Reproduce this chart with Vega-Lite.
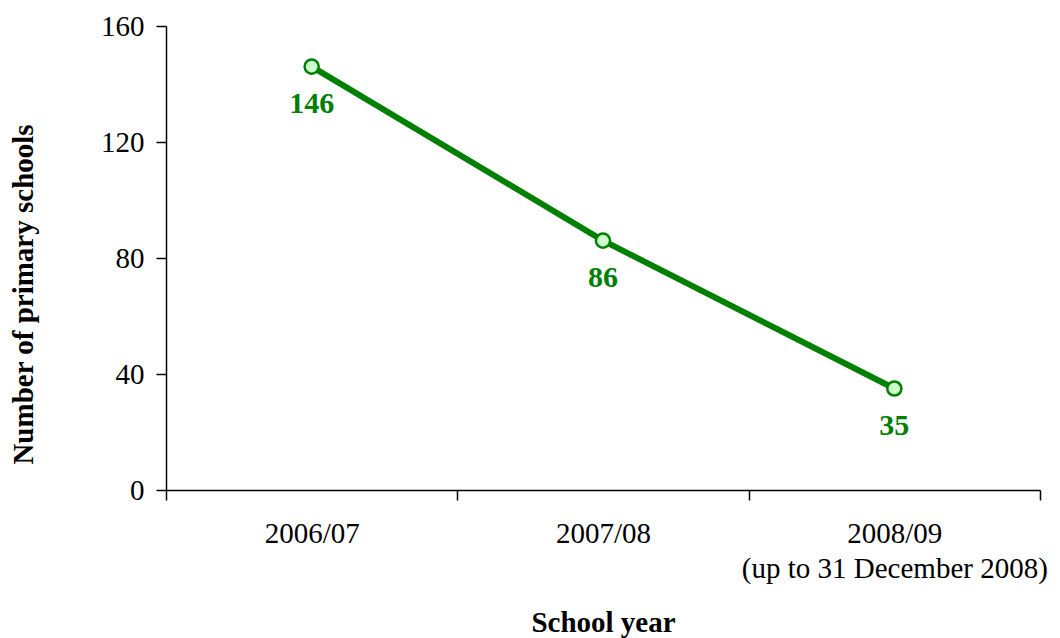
{
  "$schema": "https://vega.github.io/schema/vega-lite/v6.json",
  "autosize": "none",
  "width": 874,
  "height": 464,
  "padding": {"left": 166, "top": 26, "right": 20, "bottom": 148},
  "background": "white",
  "config": {
    "view": {"stroke": null},
    "font": "Liberation Serif",
    "axis": {
      "labelFont": "Liberation Serif",
      "titleFont": "Liberation Serif",
      "labelColor": "black",
      "titleColor": "black",
      "domainColor": "black",
      "tickColor": "black",
      "domainWidth": 1.5,
      "tickWidth": 1.5,
      "grid": false,
      "labelLimit": 0
    }
  },
  "data": {
    "values": [
      {"year": "2006/07", "schools": 146},
      {"year": "2007/08", "schools": 86},
      {"year": "2008/09", "schools": 35}
    ]
  },
  "encoding": {
    "x": {
      "field": "year",
      "type": "ordinal",
      "sort": null,
      "scale": {"type": "band", "paddingInner": 0, "paddingOuter": 0},
      "axis": {
        "title": "School year",
        "labelAngle": 0,
        "labelFontSize": 29,
        "labelPadding": 19,
        "labelLineHeight": 35,
        "labelOverlap": false,
        "labelBound": false,
        "tickBand": "extent",
        "tickSize": 10,
        "labelExpr": "datum.value == '2008/09' ? ['2008/09', '(up to 31 December 2008)'] : datum.value",
        "titleFontSize": 29,
        "titleFontWeight": "bold",
        "titleX": 437,
        "titleY": 141,
        "titleBaseline": "alphabetic"
      }
    },
    "y": {
      "field": "schools",
      "type": "quantitative",
      "scale": {"domain": [0, 160], "nice": false},
      "axis": {
        "title": "Number of primary schools",
        "values": [0, 40, 80, 120, 160],
        "labelFontSize": 29,
        "labelPadding": 12,
        "tickSize": 10,
        "titleFontSize": 29,
        "titleFontWeight": "bold",
        "titleX": -143,
        "titleY": 268,
        "titleAngle": -90,
        "titleAlign": "center",
        "titleBaseline": "middle"
      }
    }
  },
  "layer": [
    {"mark": {"type": "line", "color": "#008000", "strokeWidth": 6}},
    {"mark": {"type": "point", "filled": true, "shape": "circle", "size": 200, "fill": "#ccffcc", "stroke": "#008000", "strokeWidth": 2.5, "opacity": 1}},
    {
      "mark": {"type": "text", "dy": 37, "fontSize": 30, "fontWeight": "bold", "color": "#008000", "font": "Liberation Serif"},
      "encoding": {"text": {"field": "schools", "type": "quantitative"}}
    }
  ]
}
